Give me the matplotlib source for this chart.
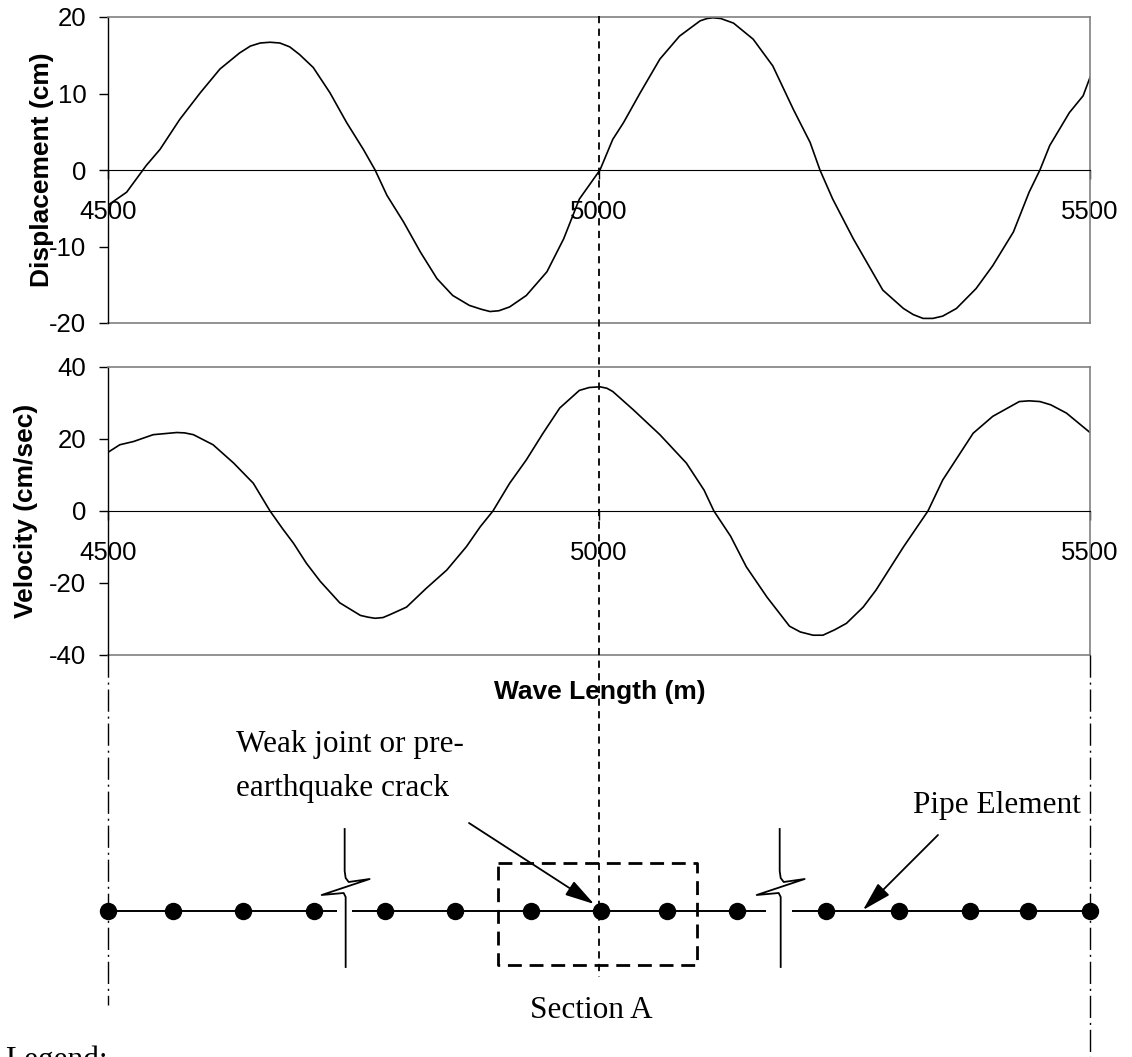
import matplotlib
matplotlib.use("Agg")
import matplotlib.pyplot as plt

plt.rcParams['font.family'] = ['Liberation Sans', 'DejaVu Sans']
plt.rcParams['axes.unicode_minus'] = False

# Displacement along the pipe (cm) vs wave length (m)
disp_x = [4500, 4519, 4539, 4553, 4573, 4594, 4614, 4634, 4645, 4655, 4665, 4675,
          4685, 4695, 4709, 4726, 4743, 4760, 4772, 4784, 4801, 4818, 4835, 4851,
          4868, 4880, 4889, 4898, 4909, 4926, 4947, 4964, 4980, 5001, 5014, 5025,
          5042, 5062, 5082, 5103, 5110, 5116, 5124, 5137, 5157, 5177, 5198, 5215,
          5225, 5238, 5259, 5289, 5310, 5320, 5330, 5340, 5350, 5364, 5384, 5401,
          5422, 5438, 5449, 5459, 5479, 5493, 5500]
disp_y = [-4.6, -2.9, 0.6, 2.7, 6.6, 10.1, 13.2, 15.3, 16.2, 16.6, 16.7, 16.6,
          16.1, 15.1, 13.4, 10.1, 6.2, 2.7, 0.0, -3.3, -6.8, -10.7, -14.2, -16.4,
          -17.7, -18.2, -18.5, -18.4, -17.9, -16.4, -13.3, -9.0, -3.8, 0.0, 4.0, 6.2,
          10.1, 14.5, 17.5, 19.5, 19.8, 19.9, 19.8, 19.2, 17.1, 13.6, 7.9, 3.6,
          0.0, -3.8, -9.0, -15.7, -18.1, -18.9, -19.4, -19.4, -19.1, -18.1, -15.5, -12.5,
          -8.1, -2.9, 0.0, 3.2, 7.5, 9.7, 12.1]

# Velocity along the pipe (cm/sec) vs wave length (m)
vel_x = [4500, 4512, 4526, 4546, 4570, 4578, 4587, 4607, 4628, 4648, 4665, 4678,
         4689, 4702, 4716, 4736, 4757, 4765, 4772, 4780, 4787, 4804, 4824, 4845,
         4865, 4879, 4892, 4909, 4926, 4943, 4960, 4980, 4990, 5001, 5008, 5014,
         5035, 5062, 5089, 5107, 5117, 5134, 5150, 5171, 5194, 5205, 5218, 5228,
         5240, 5252, 5269, 5282, 5310, 5335, 5350, 5381, 5401, 5428, 5438, 5449,
         5460, 5476, 5500]
vel_y = [16.3, 18.4, 19.3, 21.2, 21.8, 21.7, 21.2, 18.4, 13.3, 7.7, 0.0, -5.0,
         -9.0, -14.5, -19.5, -25.5, -29.0, -29.5, -29.8, -29.6, -28.8, -26.7, -21.5, -16.4,
         -9.9, -4.4, 0.0, 7.7, 14.2, 21.6, 28.6, 33.5, 34.3, 34.5, 34.1, 33.2,
         28.1, 21.2, 13.3, 5.8, 0.0, -7.0, -15.5, -23.9, -32.0, -33.6, -34.5, -34.5,
         -33.0, -31.2, -26.7, -22.0, -10.0, 0.0, 8.6, 21.6, 26.3, 30.4, 30.6, 30.4,
         29.5, 27.2, 21.8]

x_ticks = [4500, 5000, 5500]
disp_ticks = [-20, -10, 0, 10, 20]
vel_ticks = [-40, -20, 0, 20, 40]

# Pipe model sketch (positions along the wave length, m)
node_x = [4500, 4566, 4637, 4710, 4782, 4853, 4931, 5002, 5069, 5141,
          5231, 5305, 5378, 5437, 5500]
pipe_segments = [(4500, 4733), (4748, 5170), (5197, 5500)]
break_x = [4741, 5184]
section_x = 5000
box_x = (4897, 5100)

W, H = 1132, 1057
fig = plt.figure(figsize=(W / 100, H / 100), dpi=100)
fig.patch.set_facecolor('white')

GRAY = '#808080'


def style_axes(ax, yticks, label, label_x):
    ax.set_xlim(x_ticks[0], x_ticks[-1])
    ax.set_ylim(yticks[0], yticks[-1])
    ax.set_xticks(x_ticks)
    ax.set_yticks(yticks)
    ax.spines['bottom'].set_position(('data', 0))
    ax.spines['bottom'].set_color('black')
    ax.spines['bottom'].set_linewidth(0.8)
    ax.spines['left'].set_color('black')
    ax.spines['left'].set_linewidth(1.0)
    for s in ['top', 'right']:
        ax.spines[s].set_color(GRAY)
        ax.spines[s].set_linewidth(1.2)
    ax.axhline(yticks[0], color=GRAY, lw=1.2, clip_on=False)
    ax.tick_params(axis='y', direction='out', length=6.5, width=1.0,
                   labelsize=18.5, pad=9)
    ax.tick_params(axis='x', direction='out', length=6.5, width=1.0,
                   labelsize=18.5, pad=15)
    ax.set_ylabel(label, fontsize=19, fontweight='bold')
    ax.yaxis.set_label_coords(label_x, 0.5)


ax1 = fig.add_axes([108 / W, 1 - 323 / H, 982 / W, 306 / H])
ax1.plot(disp_x, disp_y, color='black', lw=1.2)
style_axes(ax1, disp_ticks, 'Displacement (cm)', -0.055)

ax2 = fig.add_axes([108 / W, 1 - 655 / H, 982 / W, 288 / H])
ax2.plot(vel_x, vel_y, color='black', lw=1.2)
style_axes(ax2, vel_ticks, 'Velocity (cm/sec)', -0.071)

fig.text(600 / W, 1 - 692 / H, 'Wave Length (m)', fontsize=19,
         fontweight='bold', ha='center', va='center')

# overlay for the pipe sketch: x in metres, y in pixel rows from the top
ax3 = fig.add_axes([108 / W, 0, 982 / W, 1])
ax3.set_xlim(x_ticks[0], x_ticks[-1])
ax3.set_ylim(H, 0)
ax3.axis('off')
m_per_px = (x_ticks[-1] - x_ticks[0]) / 982.0
yp = 911

# section line and dash-dot end lines
ax3.plot([section_x, section_x], [16, 977], color='black', lw=1.3,
         dashes=(4, 3), clip_on=False)
ax3.plot([x_ticks[0]] * 2, [655, 1005], color='black', lw=1.0,
         dashes=(16, 3.5, 1.5, 3.5), clip_on=False)
ax3.plot([x_ticks[-1]] * 2, [655, 1057], color='black', lw=1.0,
         dashes=(16, 3.5, 1.5, 3.5), clip_on=False)

# pipe
for a, b in pipe_segments:
    ax3.plot([a, b], [yp, yp], color='black', lw=1.4, solid_capstyle='butt')
ax3.plot(node_x, [yp] * len(node_x), 'o', color='black', ms=11.5, clip_on=False)

# break symbols
brk_dx = [0, 0, 1, 4, 25, -23, -1, 1, 1, 1]
brk_dy = [-82, -40, -33, -29, -32, -16, -18, -14, -8, 56]
for xb in break_x:
    ax3.plot([xb + d * m_per_px for d in brk_dx], [yp + d for d in brk_dy],
             color='black', lw=1.3)

# dashed box around section A
bx = [box_x[0], box_x[1], box_x[1], box_x[0], box_x[0]]
by = [863, 863, 965, 965, 863]
ax3.plot(bx, by, color='black', lw=2.0, dashes=(5, 2.8))

# annotations
arrow = dict(arrowstyle='-|>,head_length=0.9,head_width=0.25', color='black',
             lw=1.3, mutation_scale=20, shrinkA=0, shrinkB=0)
ax3.annotate('', xy=(4995, 904), xytext=(4867.6, 823), arrowprops=arrow)
ax3.annotate('', xy=(5268.8, 910), xytext=(5345.2, 835), arrowprops=arrow)

serif = dict(family=['Liberation Serif', 'DejaVu Serif'], fontsize=22.5)
ax3.text(4630.3, 752, 'Weak joint or pre-', ha='left', va='baseline', **serif)
ax3.text(4630.3, 796, 'earthquake crack', ha='left', va='baseline', **serif)
ax3.text(5319.8, 813, 'Pipe Element', ha='left', va='baseline', **serif)
ax3.text(4992, 1018, 'Section A', ha='center', va='baseline', **serif)
# "Legend:" sits at the bottom edge and is cut off, as in the source figure
fig.text(5 / W, 1 - 1068 / H, 'Legend:', ha='left', va='baseline', **serif)

fig.savefig('out.png', dpi=100)
